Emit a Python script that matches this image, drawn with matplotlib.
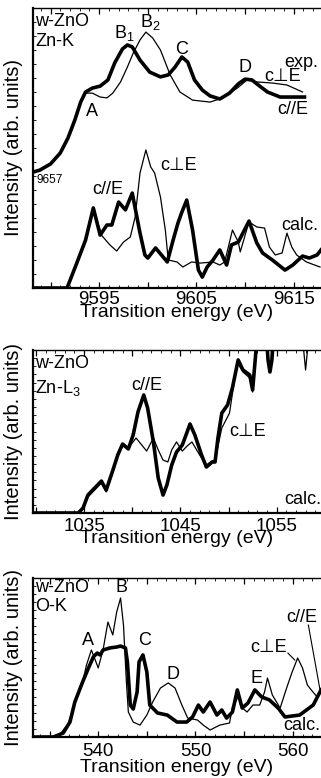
import matplotlib
matplotlib.use("Agg")
import matplotlib.pyplot as plt
from matplotlib.ticker import MultipleLocator, FuncFormatter

plt.rcParams['font.family'] = ['Liberation Sans', 'DejaVu Sans']
plt.rcParams['mathtext.fontset'] = 'custom'
plt.rcParams['mathtext.rm'] = 'Liberation Sans'
plt.rcParams['mathtext.default'] = 'regular'

# ---- Zn-K edge: experiment (upper pair) and calculation (lower pair)
znk_exp_par_e = [9588.2, 9588.9, 9590.0, 9591.0, 9591.8, 9592.5, 9593.1, 9593.6, 9594.3, 9595.1,
                 9595.9, 9596.6, 9597.4, 9597.9, 9598.4, 9599.2, 9600.2, 9601.3, 9602.1, 9602.8,
                 9603.5, 9604.1, 9604.8, 9605.6, 9606.4, 9607.4, 9608.4, 9609.3, 9610.0, 9610.7,
                 9611.5, 9612.3, 9613.6, 9616.1]
znk_exp_par_i = [41.4, 42.1, 44.3, 48.2, 53.6, 60.0, 66.4, 70.0, 71.4, 72.1,
                 74.3, 80.4, 85.4, 86.8, 86.1, 81.4, 77.1, 75.4, 76.1, 78.9,
                 82.5, 80.7, 74.3, 70.7, 68.6, 67.5, 69.6, 72.9, 74.6, 74.3,
                 72.1, 70.0, 68.2, 68.2]
znk_exp_perp_e = [9588.2, 9588.9, 9590.0, 9591.0, 9591.8, 9592.5, 9593.1, 9593.6, 9594.3, 9595.1,
                  9595.8, 9596.4, 9597.2, 9597.9, 9598.5, 9599.2, 9599.8, 9600.5, 9601.3, 9602.3,
                  9603.3, 9604.6, 9606.4, 9607.7, 9609.2, 9610.2, 9611.2, 9612.8, 9614.3, 9615.9]
znk_exp_perp_i = [41.4, 42.1, 44.3, 48.2, 53.6, 60.0, 66.4, 69.6, 69.6, 68.2,
                  67.9, 69.6, 73.6, 78.9, 83.9, 88.6, 91.4, 89.3, 85.0, 76.1,
                  70.0, 67.1, 66.4, 67.9, 71.4, 74.3, 73.6, 73.2, 72.5, 70.0]

znk_calc_par_e = [9588.2, 9591.7, 9592.7, 9593.6, 9594.4, 9595.1, 9595.8, 9596.3, 9597.0, 9597.7,
                  9598.4, 9599.2, 9599.7, 9600.0, 9600.8, 9602.0, 9602.6, 9603.1, 9603.5, 9604.0,
                  9604.6, 9605.2, 9605.6, 9606.1, 9606.7, 9607.4, 9608.1, 9608.6, 9609.3, 9610.4,
                  9611.2, 9611.8, 9612.8, 9614.1, 9614.9, 9615.9, 9616.6, 9617.4, 9617.8]
znk_calc_par_i = [0.0, 0.0, 8.9, 17.1, 28.6, 18.9, 22.5, 22.5, 30.7, 27.9,
                  33.9, 19.6, 11.8, 10.7, 14.3, 9.3, 17.1, 23.2, 27.1, 31.4,
                  20.7, 6.4, 3.9, 7.5, 10.0, 13.6, 8.2, 15.4, 16.4, 23.9,
                  16.1, 12.5, 10.0, 6.4, 8.2, 11.4, 10.7, 11.8, 13.6]
znk_calc_perp_e = [9588.2, 9591.7, 9592.7, 9593.6, 9594.4, 9595.3, 9596.1, 9596.8, 9597.5, 9598.2,
                   9598.7, 9599.2, 9599.8, 9600.3, 9600.7, 9601.3, 9601.8, 9602.1, 9603.0, 9603.6,
                   9604.5, 9605.4, 9606.7, 9607.4, 9607.9, 9608.7, 9609.3, 9609.5, 9610.4, 9611.2,
                   9612.0, 9612.5, 9613.1, 9613.8, 9614.3, 9614.8, 9615.3, 9616.3, 9617.7]
znk_calc_perp_i = [0.0, 0.0, 8.9, 17.1, 27.9, 18.6, 15.4, 13.2, 16.4, 18.2,
                   25.4, 41.1, 49.3, 43.2, 41.1, 32.5, 20.7, 10.0, 9.3, 7.5,
                   9.3, 8.9, 9.3, 8.2, 9.3, 20.7, 16.4, 12.9, 23.6, 21.8,
                   21.4, 14.6, 11.8, 12.5, 19.6, 14.6, 11.8, 9.3, 7.5]

# ---- Zn-L3 edge (calculation)
znl_par_e = [1029.7, 1034.4, 1034.9, 1035.4, 1036.1, 1036.8, 1037.3, 1038.0, 1038.5, 1039.0,
             1039.6, 1040.1, 1040.6, 1041.2, 1041.6, 1042.2, 1042.7, 1043.2, 1043.6, 1044.1,
             1044.6, 1045.2, 1045.7, 1046.0, 1046.5, 1047.2, 1047.7, 1048.3, 1048.6, 1048.9,
             1049.3, 1049.9, 1050.4, 1051.0, 1051.5, 1052.2, 1052.5, 1052.9, 1053.2, 1053.9,
             1054.1, 1054.3, 1054.5, 1054.7, 1059.6]
znl_par_i = [0.0, 0.0, 3.1, 11.0, 15.3, 19.6, 14.1, 26.4, 35.6, 42.3,
             39.3, 47.9, 62.0, 72.4, 64.4, 43.6, 21.5, 11.0, 17.2, 29.4,
             37.4, 41.7, 49.7, 54.6, 47.9, 35.6, 28.2, 31.3, 31.3, 46.0,
             61.3, 66.3, 76.7, 93.9, 87.7, 84.7, 75.5, 103.0, 112.0, 112.0,
             93.9, 86.5, 93.9, 112.0, 112.0]
znl_perp_e = [1029.7, 1034.4, 1034.9, 1035.4, 1036.1, 1036.8, 1037.3, 1038.0, 1038.5, 1039.0,
              1039.6, 1040.4, 1041.5, 1042.2, 1042.7, 1043.2, 1043.7, 1044.1, 1044.6, 1045.2,
              1045.7, 1046.2, 1047.0, 1047.7, 1048.3, 1048.6, 1049.3, 1050.1, 1050.9, 1051.5,
              1052.2, 1052.5, 1052.9, 1053.2, 1053.9, 1054.1, 1054.3, 1054.5, 1054.7, 1057.6,
              1057.8, 1058.0, 1058.2, 1058.4, 1059.6]
znl_perp_i = [0.0, 0.0, 2.5, 9.8, 14.1, 18.4, 12.9, 25.2, 35.0, 41.1,
              39.9, 46.0, 38.0, 46.0, 38.7, 32.5, 31.3, 38.7, 43.6, 38.0,
              41.1, 43.6, 35.6, 29.4, 31.9, 32.5, 52.1, 61.3, 92.6, 86.5,
              82.8, 74.2, 103.0, 112.0, 112.0, 95.1, 89.0, 95.1, 112.0, 112.0,
              100.0, 87.7, 100.0, 112.0, 112.0]

# ---- O-K edge (calculation)
ok_par_e = [533.3, 535.4, 536.4, 537.1, 537.6, 538.4, 539.0, 539.5, 539.9, 540.2,
            540.5, 541.2, 541.9, 542.3, 542.8, 543.0, 543.3, 543.6, 544.0, 544.2,
            544.6, 545.0, 545.3, 546.1, 547.1, 548.1, 549.1, 549.7, 550.3, 550.8,
            551.5, 552.2, 552.7, 553.2, 553.8, 554.3, 554.8, 555.4, 556.1, 556.8,
            557.6, 558.5, 559.2, 560.7, 562.1, 562.9]
ok_par_i = [0.0, 0.0, 2.5, 9.4, 22.0, 34.6, 43.4, 50.3, 52.8, 51.6,
            54.7, 56.0, 56.6, 57.2, 56.0, 47.2, 20.1, 17.6, 28.3, 47.2,
            51.6, 40.9, 20.1, 15.1, 13.8, 9.4, 9.4, 12.6, 20.1, 15.7,
            22.0, 13.8, 17.0, 11.9, 15.7, 29.6, 18.2, 21.4, 29.6, 25.2,
            23.3, 18.2, 12.6, 13.8, 20.1, 29.6]
ok_perp_e = [533.3, 535.1, 536.1, 536.9, 537.6, 538.4, 538.8, 539.3, 539.7, 540.0,
             540.5, 541.0, 541.5, 541.9, 542.3, 542.6, 542.9, 543.1, 543.6, 544.3,
             545.0, 545.6, 546.4, 547.2, 547.9, 548.6, 549.2, 550.2, 550.8, 551.5,
             552.5, 553.5, 553.8, 554.4, 554.7, 555.3, 555.9, 556.6, 557.1, 557.4,
             557.9, 558.7, 559.3, 559.9, 560.5, 561.0, 561.5, 561.9, 562.5, 562.9]
ok_perp_i = [0.0, 0.0, 1.9, 8.2, 20.8, 34.6, 45.3, 54.7, 48.4, 43.4,
             54.7, 72.3, 64.2, 78.6, 87.4, 70.4, 34.6, 15.7, 9.4, 7.5,
             13.8, 22.0, 30.8, 34.0, 30.8, 20.1, 11.9, 10.7, 7.5, 4.4,
             7.5, 8.8, 18.9, 25.2, 18.9, 15.7, 20.1, 20.1, 28.3, 37.1,
             26.4, 18.2, 29.6, 40.3, 49.7, 43.4, 32.7, 29.6, 25.2, 29.6]

W, H = 321, 778
fig = plt.figure(figsize=(W / 100, H / 100), dpi=100)


def make_axes(top_px, bottom_px, xlim, label_step_offset, tick_pad):
    ax = fig.add_axes([33 / W, 1 - bottom_px / H, (W - 33) / W, (bottom_px - top_px) / H])
    ax.set_xlim(*xlim)
    ax.set_ylim(0, 100)
    ax.spines['right'].set_visible(False)
    ax.spines['left'].set_linewidth(1.6)
    ax.spines['bottom'].set_linewidth(1.6)
    ax.spines['top'].set_linewidth(1.0)
    # major ticks every 5 eV, labelled every 10 eV
    ax.xaxis.set_major_locator(MultipleLocator(5))
    ax.xaxis.set_minor_locator(MultipleLocator(1))
    ax.xaxis.set_major_formatter(FuncFormatter(
        lambda v, p: f"{v:.0f}" if round(v) % 10 == label_step_offset else ""))
    ax.yaxis.set_major_locator(MultipleLocator(100))
    ax.yaxis.set_minor_locator(MultipleLocator(5))
    ax.set_yticklabels([])
    ax.tick_params(which='both', direction='in', top=True, right=False)
    ax.tick_params(axis='x', which='major', length=4, width=0.9, labelsize=13.5, pad=tick_pad)
    ax.tick_params(which='minor', length=2, width=0.6)
    ax.tick_params(axis='y', which='major', length=0)
    ax.set_xlabel('Transition energy (eV)', fontsize=14)
    ax.set_ylabel('Intensity (arb. units)', fontsize=14.5)
    ax.yaxis.set_label_coords(-0.035, 0.5)
    return ax


def draw_pair(ax, e_par, i_par, e_perp, i_perp):
    ax.plot(e_par, i_par, color='black', lw=2.6, solid_joinstyle='round', zorder=3)
    ax.plot(e_perp, i_perp, color='black', lw=0.9, solid_joinstyle='round', zorder=4)


lab = dict(fontsize=13, ha='center', va='center')

# Zn-K
ax1 = make_axes(8, 288, (9588.2, 9617.8), 5, 2.0)
draw_pair(ax1, znk_exp_par_e, znk_exp_par_i, znk_exp_perp_e, znk_exp_perp_i)
draw_pair(ax1, znk_calc_par_e, znk_calc_par_i, znk_calc_perp_e, znk_calc_perp_i)
ax1.xaxis.set_label_coords(0.5, -0.058)
ax1.text(0.008, 0.95, 'w-ZnO', transform=ax1.transAxes, fontsize=13, va='center')
ax1.text(0.008, 0.879, 'Zn-K', transform=ax1.transAxes, fontsize=13, va='center')
ax1.text(9594.3, 62.9, 'A', **lab)
ax1.text(9597.6, 91.1, 'B$_1$', **lab)
ax1.text(9600.3, 95.0, 'B$_2$', **lab)
ax1.text(9603.5, 85.0, 'C', **lab)
ax1.text(9610.0, 78.6, 'D', **lab)
ax1.text(9615.8, 80.7, 'exp.', **lab)
ax1.text(9613.9, 75.7, 'c\u22a5E', **lab)
ax1.text(9614.9, 63.6, 'c//E', **lab)
ax1.text(9603.2, 43.9, 'c\u22a5E', **lab)
ax1.text(9595.9, 35.0, 'c//E', **lab)
ax1.text(9615.6, 22.5, 'calc.', **lab)
ax1.text(9588.6, 38.6, '9657', fontsize=8.5, va='center')

# Zn-L3
ax2 = make_axes(350, 513, (1029.7, 1059.6), 5, 3.5)
draw_pair(ax2, znl_par_e, znl_par_i, znl_perp_e, znl_perp_i)
ax2.xaxis.set_label_coords(0.5, -0.105)
ax2.text(0.008, 0.92, 'w-ZnO', transform=ax2.transAxes, fontsize=13, va='center')
ax2.text(0.008, 0.767, 'Zn-L$_3$', transform=ax2.transAxes, fontsize=13, va='center')
ax2.text(1041.5, 78.5, 'c//E', **lab)
ax2.text(1050.1, 49.7, 'c\u22a5E', fontsize=13, ha='left', va='center')
ax2.text(1059.6, 8.0, 'calc.', fontsize=13, ha='right', va='center')

# O-K
ax3 = make_axes(578, 737, (533.3, 562.9), 0, 4.5)
draw_pair(ax3, ok_par_e, ok_par_i, ok_perp_e, ok_perp_i)
ax3.xaxis.set_label_coords(0.5, -0.14)
ax3.text(0.008, 0.943, 'w-ZnO', transform=ax3.transAxes, fontsize=13, va='center')
ax3.text(0.008, 0.818, 'O-K', transform=ax3.transAxes, fontsize=13, va='center')
ax3.text(539.0, 61.0, 'A', **lab)
ax3.text(542.4, 94.3, 'B', **lab)
ax3.text(544.8, 61.0, 'C', **lab)
ax3.text(547.7, 39.0, 'D', **lab)
ax3.text(556.3, 37.1, 'E', **lab)
ax3.text(557.5, 56.6, 'c\u22a5E', **lab)
ax3.plot([559.5, 560.2], [52.8, 48.4], color='black', lw=0.8)
ax3.text(560.9, 75.0, 'c//E', **lab)
ax3.plot([561.6, 562.8], [70.4, 29.6], color='black', lw=0.8)
ax3.text(560.9, 7.5, 'calc.', **lab)

fig.savefig('out.png', dpi=100)
